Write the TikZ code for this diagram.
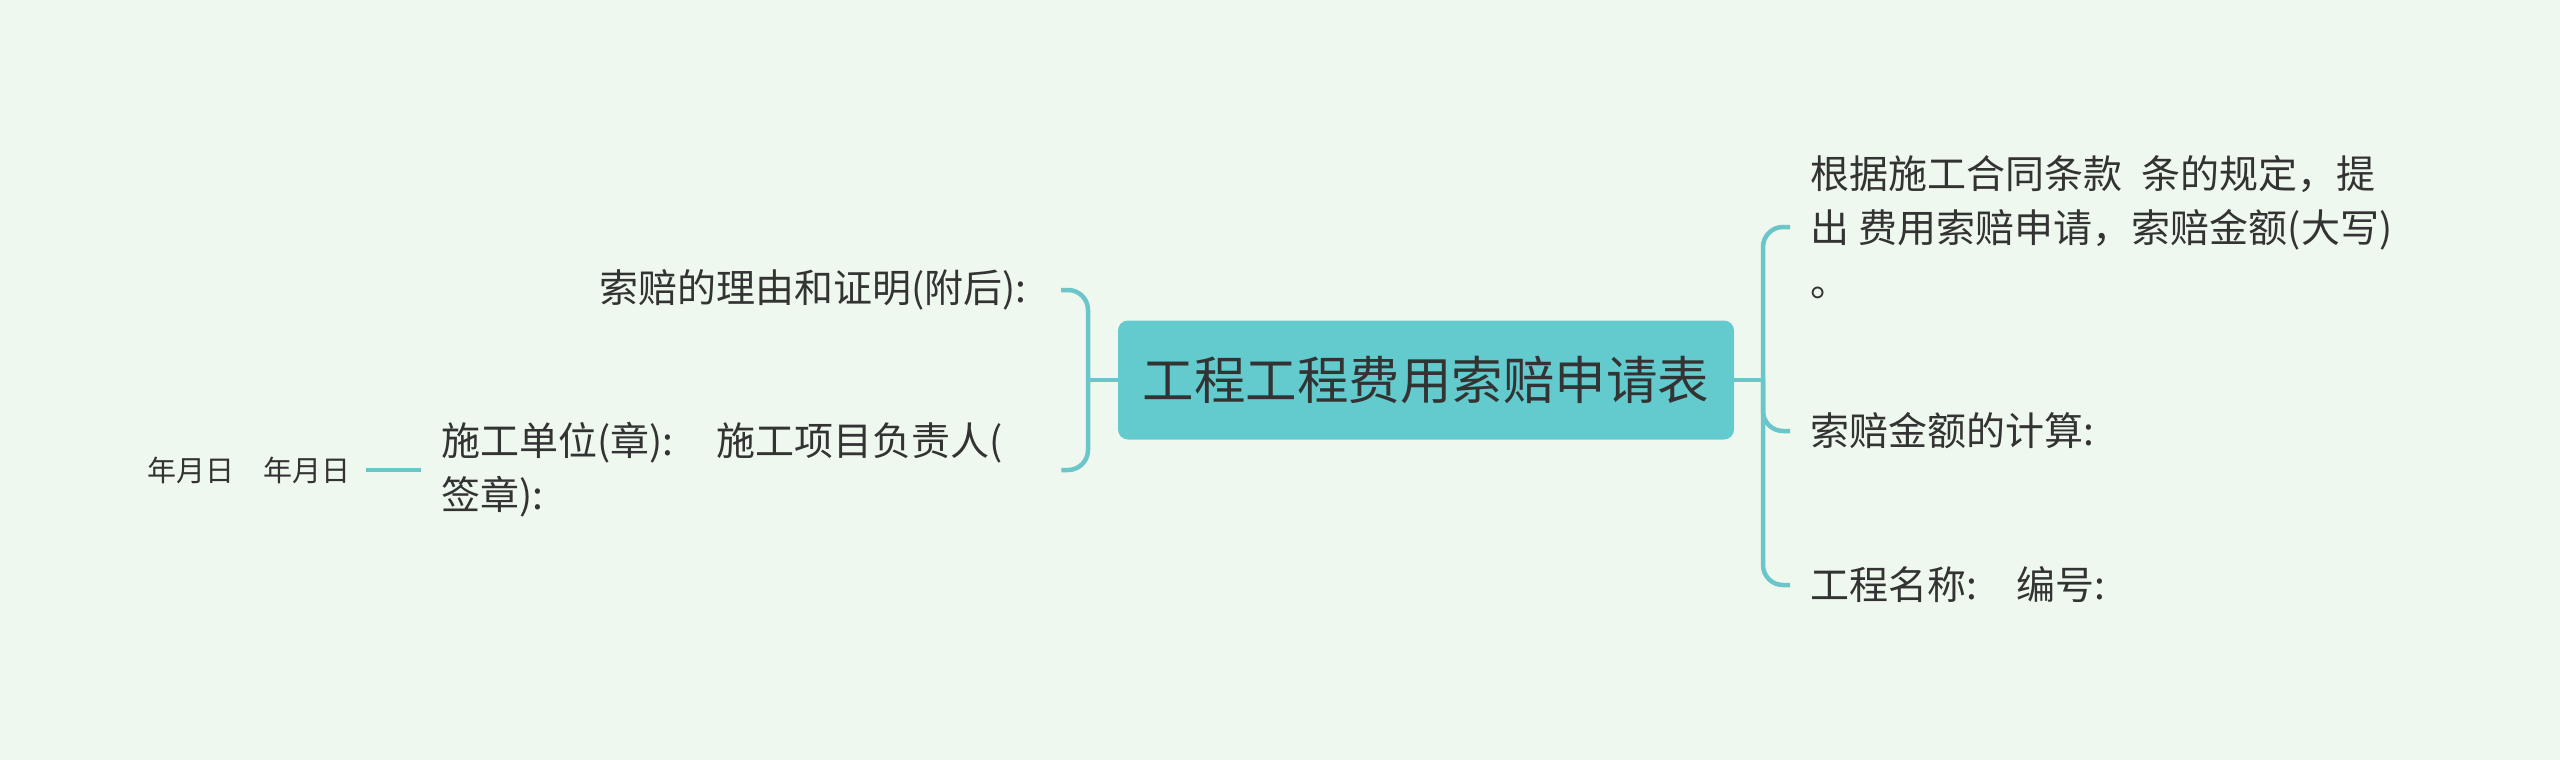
\documentclass[tikz,border=0pt]{standalone}
\usepackage{fontspec}
\setmainfont{Noto Sans CJK SC}
\usetikzlibrary{calc}
\definecolor{bgc}{HTML}{EFF8EE}
\definecolor{boxc}{HTML}{63CACD}
\definecolor{linec}{HTML}{6BC6CA}
\definecolor{txtc}{HTML}{333333}
\begin{document}
\begin{tikzpicture}[x=1pt,y=-1pt,
  conn/.style={draw=linec,line width=4.5pt},
  rootbox/.style={fill=boxc,rounded corners=10pt,minimum width=616pt,minimum height=119pt,inner sep=0pt,text=txtc,font=\fontsize{51.5}{60}\selectfont},
  leaf/.style={inner sep=0pt,text=txtc,align=left,font=\fontsize{39}{54}\selectfont},
  smallleaf/.style={inner sep=0pt,text=txtc,font=\fontsize{29}{36}\selectfont}]
\fill[bgc] (0,0) rectangle (2560,760);
\useasboundingbox (0,0) rectangle (2560,760);

\node[rootbox] (root) at (1426,380) {工程工程费用索赔申请表};

\node[leaf,anchor=west] (r1) at (1810,227) {根据施工合同条款\hspace{0.5em}条的规定，提\\出\hspace{0.25em}费用索赔申请，索赔金额(大写)\\。};
\node[leaf,anchor=west] (r2) at (1810,431) {索赔金额的计算:};
\node[leaf,anchor=west] (r3) at (1810,585) {工程名称:\hspace{1em}编号:};

\node[leaf,anchor=east] (l1) at (1027,290) {索赔的理由和证明(附后):};
\node[leaf,anchor=west,text width=600pt] (l2) at (441,470) {施工单位(章):\hspace{1.1em}施工项目负责人(\\签章):};
\node[smallleaf,anchor=east] (l3) at (351,470) {年月日\hspace{1em}年月日};

\coordinate (rj) at (1763,380);
\coordinate (lj) at (1088,380);

\draw[conn] (root.east) -- (rj);
\draw[conn,rounded corners=20pt] ([xshift=-20pt]r1.west) -| (rj) |- ([xshift=-20pt]r3.west);
\draw[conn,rounded corners=20pt] (rj) |- ([xshift=-20pt]r2.west);

\draw[conn] (root.west) -- (lj);
\draw[conn,rounded corners=20pt] ([xshift=34pt]l1.east) -| (lj) |- ([xshift=20pt]l2.east);
\draw[conn] ([xshift=-20pt]l2.west) -- ([xshift=15pt]l3.east);
\end{tikzpicture}
\end{document}
